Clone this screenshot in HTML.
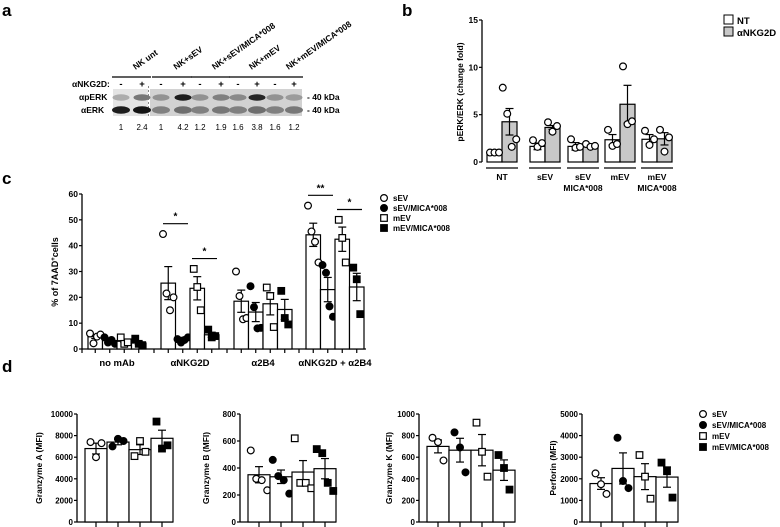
<!DOCTYPE html>
<html><head><meta charset="utf-8"><style>
body{margin:0;background:#fff}
svg{display:block;font-family:"Liberation Sans",Arial,sans-serif;font-weight:bold}
</style></head><body>
<svg id="fig" width="780" height="527" viewBox="0 0 780 527" xmlns="http://www.w3.org/2000/svg">
<text x="2" y="16" font-size="17">a</text>
<text x="402" y="16" font-size="17">b</text>
<text x="2" y="184" font-size="17">c</text>
<text x="2" y="372" font-size="17">d</text>
<g id="blot">
<rect x="113" y="89" width="35" height="27" fill="#e4e4e4"/>
<rect x="150" y="89" width="152" height="27" fill="#d2d2d2"/>
<line x1="148.5" y1="86" x2="148.5" y2="118" stroke="#888" stroke-dasharray="2,2"/>
<text x="72" y="87" font-size="8.5">αNKG2D:</text>
<text x="79" y="100" font-size="8.5">αpERK</text>
<text x="81" y="113" font-size="8.5">αERK</text>
<text x="307" y="100" font-size="8.5">- 40 kDa</text>
<text x="307" y="113" font-size="8.5">- 40 kDa</text>
</g>
<g id="gb"></g><g id="gc"></g><g id="gd"></g>
</svg>
<script>
const NS="http://www.w3.org/2000/svg";
function el(p,t,a,txt){const e=document.createElementNS(NS,t);for(const k in a)e.setAttribute(k,a[k]);if(txt!==undefined)e.textContent=txt;p.appendChild(e);return e;}
// ---- panel a data
const blotGroups=["NK unt","NK+sEV","NK+sEV/MICA*008","NK+mEV","NK+mEV/MICA*008"];
const blotRatios=["1","2.4","1","4.2","1.2","1.9","1.6","3.8","1.6","1.2"];
const perkIntensity=[0.15,0.45,0.3,0.95,0.3,0.4,0.35,0.9,0.3,0.25];
const erkIntensity=[0.95,1.0,0.4,0.5,0.4,0.45,0.4,0.5,0.4,0.45];
const laneX=[121,142,161,183,200,221,238,257,275,294];
const blot=document.getElementById('blot');
blotRatios.forEach((r,i)=>{
 let t=el(blot,'text',{x:laneX[i],y:130,'font-size':8,'text-anchor':'middle','font-weight':'normal'},r);
 
 let s=el(blot,'text',{x:laneX[i],y:87,'font-size':9.5,'text-anchor':'middle'},i%2?'+':'-');
 
 let g1=Math.round(200-180*perkIntensity[i]);
 let b1=el(blot,'ellipse',{cx:laneX[i],cy:97.5,rx:8.5,ry:3.2,fill:`rgb(${g1},${g1},${g1})`});
 
 let g2=Math.round(200-180*erkIntensity[i]);
 let b2=el(blot,'ellipse',{cx:laneX[i],cy:110,rx:9,ry:3.8,fill:`rgb(${g2},${g2},${g2})`});
 
});
blotGroups.forEach((g,i)=>{
 const x1=laneX[2*i]-9,x2=laneX[2*i+1]+9;
 let l=el(blot,'line',{x1:x1,x2:x2,y1:77,y2:77,stroke:'#000','stroke-width':1.3});
 
 const cx=(x1+x2)/2+4;
 let t=el(blot,'text',{x:cx,y:70,'font-size':8.5,transform:`rotate(-35 ${cx} 70)`},g);
 
});
// ---- generic helpers
function circle(g,x,y,filled){let c=el(g,'circle',{cx:x,cy:y,r:3.4,fill:filled?'#000':'#fff',stroke:'#000','stroke-width':1.2});}
function square(g,x,y,filled){let c=el(g,'rect',{x:x-3.3,y:y-3.3,width:6.6,height:6.6,fill:filled?'#000':'#fff',stroke:'#000','stroke-width':1.2});}
function yAxis(g,x,y0,y1,ticks,max,fs){
 let a=el(g,'line',{x1:x,x2:x,y1:y0,y2:y1,stroke:'#000','stroke-width':1.3});
 ticks.forEach(t=>{const y=y0-(y0-y1)*t/max;el(g,'line',{x1:x-3,x2:x,y1:y,y2:y,stroke:'#000','stroke-width':1.2});
 let tx=el(g,'text',{x:x-4,y:y+3,'font-size':fs,'text-anchor':'end'},t);});
}
function ylabel(g,x,y,txt,fs){let t=el(g,'text',{x:x,y:y,'font-size':fs,'text-anchor':'middle',transform:`rotate(-90 ${x} ${y})`});t.innerHTML=txt;}
function bar(g,x,w,y0,yv,fill){let r=el(g,'rect',{x:x,y:yv,width:w,height:y0-yv,fill:fill,stroke:'#000','stroke-width':1.2});}
function err(g,cx,ym,ye){const yl=2*ym-ye;el(g,'line',{x1:cx,x2:cx,y1:yl,y2:ye,stroke:'#000','stroke-width':1.2});el(g,'line',{x1:cx-4,x2:cx+4,y1:ye,y2:ye,stroke:'#000','stroke-width':1.2});let e=el(g,'line',{x1:cx-4,x2:cx+4,y1:yl,y2:yl,stroke:'#000','stroke-width':1.2});}
// ---- panel b
const bCats=[["NT"],["sEV"],["sEV","MICA*008"],["mEV"],["mEV","MICA*008"]];
const bNT=[1.0,1.65,1.65,2.35,2.4];
const bNTerr=[1.1,2.0,2.05,2.9,2.9];
const bAb=[4.25,3.65,1.7,6.1,2.45];
const bAberr=[5.65,3.85,1.85,8.1,3.1];
const bNTpts=[[1,1,1],[2.3,1.6,2.0],[2.4,1.5,1.6],[3.4,1.7,1.9],[3.3,1.8,2.4]];
const bAbpts=[[7.85,5.1,1.6,2.4],[4.2,3.2,3.8],[1.9,1.6,1.7],[10.1,4.0,4.3],[3.4,1.1,2.6]];
(function(){const g=document.getElementById('gb');const y0=162,y1=20,max=15;const Y=v=>y0-(y0-y1)*v/max;
 yAxis(g,482,y0,y1,[0,5,10,15],max,8.5);ylabel(g,463,92,'pERK/ERK (change fold)',8.5);
 const gx=[502,545,583,620,657],w=15;
 bCats.forEach((c,i)=>{const x=gx[i];
  bar(g,x-w,w,y0,Y(bNT[i]),'#fff');bar(g,x,w,y0,Y(bAb[i]),'#c8c8c8');
  err(g,x-w/2,Y(bNT[i]),Y(bNTerr[i]));err(g,x+w/2,Y(bAb[i]),Y(bAberr[i]));
  bNTpts[i].forEach((v,j)=>circle(g,x-w/2+(j-1)*4.5,Y(v),false));
  bAbpts[i].forEach((v,j)=>circle(g,x+w/2+(j-(bAbpts[i].length-1)/2)*4.5,Y(v),false));
  let l=el(g,'line',{x1:x-16,x2:x+16,y1:168,y2:168,stroke:'#000','stroke-width':1.3});
  c.forEach((s,k)=>{let t=el(g,'text',{x:x,y:180+k*11,'font-size':8.5,'text-anchor':'middle'},s);});
 });
 let r1=el(g,'rect',{x:724,y:15,width:9,height:9,fill:'#fff',stroke:'#000'});
 let t1=el(g,'text',{x:737,y:24,'font-size':9.5},'NT');
 let r2=el(g,'rect',{x:724,y:27,width:9,height:9,fill:'#c8c8c8',stroke:'#000'});
 let t2=el(g,'text',{x:737,y:36,'font-size':9.5},'αNKG2D');
})();
// ---- panel c
const cCats=["no mAb","αNKG2D","α2B4","αNKG2D + α2B4"];
const cMeans=[[4.8,3.3,3,2.3],[25.5,4,23.5,5.5],[18.5,14.3,17.5,15.3],[44.2,23,42.5,24]];
const cErr=[[5.5,4,3.5,2.8],[31.9,4.5,28,6.5],[22.8,18,21.8,19.2],[48.7,27.7,47.2,29.3]];
const cPts=[[[6,2.2,4.8,5.6],[4.5,2.5,3.5,2],[4.5,2,2.6],[4,2,1.5]],
 [[44.5,21.5,15,20],[3.8,2.5,3.5,4.5],[31,24,15],[7.5,4.5,5]],
 [[30,20.5,11.5,12],[24.3,16.2,8,8.2],[23.8,20.5,8.5],[22.5,12,9.5]],
 [[55.5,45.5,41.5,33.5],[32.5,29.5,16.5,12.5],[50,43,33.5],[31.5,27,13.5]]];
const cSig=[["*",0,1],["*",2,3],["**",0,1],["*",2,3]];
(function(){const g=document.getElementById('gc');const y0=349,y1=194,max=60;const Y=v=>y0-(y0-y1)*v/max;
 yAxis(g,82,y0,y1,[0,10,20,30,40,50,60],max,8.5);ylabel(g,58,272,'% of 7AAD<tspan font-size="6" dy="-3">+</tspan><tspan dy="3">cells</tspan>',9);
 el(g,'line',{x1:82,x2:366,y1:y0,y2:y0,stroke:'#000','stroke-width':1.3});
 const gs=[88,161,234,306],w=14.5;
 [82,154,227,299].forEach(x=>el(g,'line',{x1:x,x2:x,y1:y0,y2:y0+4,stroke:'#000','stroke-width':1.2}));
 cCats.forEach((c,i)=>{
  for(let k=0;k<4;k++){const x=gs[i]+k*w,cx=x+w/2;
   el(g,'line',{x1:cx,x2:cx,y1:y0,y2:y0+4,stroke:'#000','stroke-width':1.2});
   bar(g,x,w,y0,Y(cMeans[i][k]),'#fff');err(g,cx,Y(cMeans[i][k]),Y(cErr[i][k]));
   const p=cPts[i][k];p.forEach((v,j)=>{const px=cx+(j-(p.length-1)/2)*3.5;(k<2?circle:square)(g,px,Y(v),k%2==1);});
  }
  let t=el(g,'text',{x:gs[i]+2*w,y:366,'font-size':9.5,'text-anchor':'middle'},c);
 });
 cSig.forEach((s,n)=>{const i=n<2?1:3;const x1=gs[i]+s[1]*w+2,x2=gs[i]+(s[2]+1)*w-2;
  const top=Math.max(cErr[i][s[1]],...cPts[i][s[1]])+4;const y=Y(top);
  let l=el(g,'line',{x1:x1,x2:x2,y1:y,y2:y,stroke:'#000','stroke-width':1.2});
  let t=el(g,'text',{x:(x1+x2)/2,y:y-4,'font-size':10,'text-anchor':'middle'},s[0]);});
 const lg=["sEV","sEV/MICA*008","mEV","mEV/MICA*008"];
 lg.forEach((s,k)=>{const y=198+k*10;(k<2?circle:square)(g,384,y,k%2==1);let t=el(g,'text',{x:393,y:y+3,'font-size':8},s);});
})();
// ---- panel d
const dTitles=["Granzyme A (MFI)","Granzyme B (MFI)","Granzyme K (MFI)","Perforin (MFI)"];
const dMax=[10000,800,1000,5000];
const dTicks=[[0,2000,4000,6000,8000,10000],[0,200,400,600,800],[0,200,400,600,800,1000],[0,1000,2000,3000,4000,5000]];
const dMeans=[[6800,7400,6700,7750],[350,335,370,395],[700,665,665,480],[1780,2480,2100,2080]];
const dErr=[[7300,7650,7150,8500],[410,385,455,470],[760,775,810,575],[2050,3200,2700,2550]];
const dPts=[[[7400,6000,7300],[7000,7700,7500],[6100,7500,6500],[9300,6800,7100]],
 [[530,320,310,235],[460,340,310,210],[620,290,290,250],[540,510,290,230]],
 [[780,740,570],[830,690,460],[920,650,420],[620,500,300]],
 [[2250,1750,1300],[3900,1900,1570],[3100,2100,1080],[2750,2350,1130]]];
(function(){const g=document.getElementById('gd');const y0=522,y1=414;
 const ax=[77,240,419,582],tx=[42,209,392,556];
 dTitles.forEach((tt,i)=>{const Y=v=>y0-(y0-y1)*v/dMax[i];
  yAxis(g,ax[i],y0,y1,dTicks[i],dMax[i],8);ylabel(g,tx[i],468,tt,8.5);
  el(g,'line',{x1:ax[i],x2:ax[i]+96,y1:y0,y2:y0,stroke:'#000','stroke-width':1.3});
  const w=22,x0=ax[i]+8;
  for(let k=0;k<4;k++){const x=x0+k*w,cx=x+w/2;
   el(g,'line',{x1:cx,x2:cx,y1:y0,y2:y0+5,stroke:'#000','stroke-width':1.2});
   bar(g,x,w,y0,Y(dMeans[i][k]),'#fff');err(g,cx,Y(dMeans[i][k]),Y(dErr[i][k]));
   const p=dPts[i][k];p.forEach((v,j)=>{const px=cx+(j-(p.length-1)/2)*5.5;(k<2?circle:square)(g,px,Y(v),k%2==1);});
  }
 });
 const lg=["sEV","sEV/MICA*008","mEV","mEV/MICA*008"];
 lg.forEach((s,k)=>{const y=414+k*11;(k<2?circle:square)(g,703,y,k%2==1);let t=el(g,'text',{x:712,y:y+3,'font-size':8},s);});
})();
</script>
</body></html>
